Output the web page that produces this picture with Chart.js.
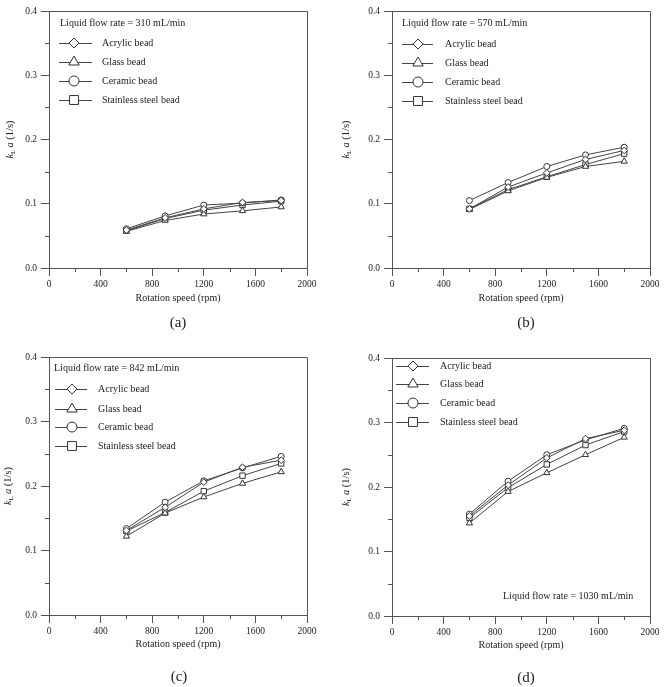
<!DOCTYPE html>
<html>
<head>
<meta charset="utf-8">
<script src="https://cdn.jsdelivr.net/npm/chart.js"></script>
<style>
  html, body { margin:0; padding:0; background:#fff; }
  #fig { position:relative; width:666px; height:687px; }
  #fig canvas { position:absolute; }
</style>
</head>
<body>
<div id="fig">
  <canvas id="pa" width="333" height="340" style="left:0;top:0"></canvas>
  <canvas id="pb" width="333" height="340" style="left:333px;top:0"></canvas>
  <canvas id="pc" width="333" height="347" style="left:0;top:340px"></canvas>
  <canvas id="pd" width="333" height="347" style="left:333px;top:340px"></canvas>
</div>
<script>
// ===== data (kLa, 1/s) =====
const rpm = [600, 900, 1200, 1500, 1800];
const beadNames = ["Acrylic bead", "Glass bead", "Ceramic bead", "Stainless steel bead"];

// 310 mL/min
const acrylic310 = [0.059, 0.078, 0.092, 0.102, 0.105];
const glass310   = [0.057, 0.074, 0.084, 0.089, 0.095];
const ceramic310 = [0.061, 0.081, 0.098, 0.101, 0.106];
const steel310   = [0.058, 0.077, 0.090, 0.098, 0.104];
// 570 mL/min
const acrylic570 = [0.092, 0.126, 0.148, 0.169, 0.183];
const glass570   = [0.091, 0.120, 0.141, 0.158, 0.166];
const ceramic570 = [0.105, 0.133, 0.158, 0.176, 0.188];
const steel570   = [0.092, 0.122, 0.142, 0.161, 0.178];
// 842 mL/min
const acrylic842 = [0.131, 0.167, 0.206, 0.229, 0.240];
const glass842   = [0.122, 0.158, 0.183, 0.204, 0.222];
const ceramic842 = [0.134, 0.175, 0.208, 0.228, 0.246];
const steel842   = [0.130, 0.159, 0.192, 0.216, 0.235];
// 1030 mL/min
const acrylic1030 = [0.155, 0.203, 0.245, 0.275, 0.288];
const glass1030   = [0.144, 0.193, 0.222, 0.250, 0.277];
const ceramic1030 = [0.158, 0.209, 0.250, 0.273, 0.291];
const steel1030   = [0.152, 0.199, 0.235, 0.265, 0.286];

const flowLabels = [
  "Liquid flow rate = 310 mL/min",
  "Liquid flow rate = 570 mL/min",
  "Liquid flow rate = 842 mL/min",
  "Liquid flow rate = 1030 mL/min"
];
const panelLetters = ["(a)", "(b)", "(c)", "(d)"];
const xTitle = "Rotation speed (rpm)";

// ===== styles =====
const FONT = "'Liberation Serif', 'Times New Roman', serif";
const INK = "#222";
const AXIS = "#555";
const LINE = "#444";
const markers = ["rectRot", "triangle", "circle", "rect"];
const dataRadius = [3.4, 3.6, 3, 3.8];
const legendRadius = [5, 6, 5, 6.3];

Chart.defaults.font.family = FONT;
Chart.defaults.color = INK;

function series(vals){ return rpm.map((r,i)=>({ x:r, y:vals[i] })); }

function tenth(v){ return Math.abs(v*10 - Math.round(v*10)) < 1e-6; }

function makePanel(id, sets, p){
  const deco = {
    id: "deco_"+id,
    afterDraw(chart){
      const ctx = chart.ctx, ca = chart.chartArea;
      const xs = chart.scales.x, ys = chart.scales.y;
      ctx.save();
      // frame top/right
      ctx.strokeStyle = AXIS; ctx.lineWidth = 1;
      ctx.beginPath();
      ctx.moveTo(ca.left, Math.round(ca.top)+0.5);
      ctx.lineTo(Math.round(ca.right)+0.5, Math.round(ca.top)+0.5);
      ctx.lineTo(Math.round(ca.right)+0.5, ca.bottom);
      ctx.stroke();
      // minor ticks
      ctx.beginPath();
      for(let v=0.05; v<0.4; v+=0.1){
        const y = Math.round(ys.getPixelForValue(v))+0.5;
        ctx.moveTo(ca.left-4, y); ctx.lineTo(ca.left, y);
      }
      for(let v=200; v<2000; v+=400){
        const x = Math.round(xs.getPixelForValue(v))+0.5;
        ctx.moveTo(x, ca.bottom); ctx.lineTo(x, ca.bottom+4);
      }
      ctx.stroke();

      ctx.fillStyle = INK;
      ctx.textBaseline = "middle";
      // flow rate label
      ctx.font = "10px "+FONT;
      ctx.textAlign = "left";
      ctx.fillText(p.flow, p.flowX, p.flowY);
      // legend
      beadNames.forEach((name,i)=>{
        const y = p.legY[i];
        ctx.strokeStyle = LINE; ctx.lineWidth = 1;
        ctx.beginPath();
        ctx.moveTo(p.legX0, y+0.5); ctx.lineTo(p.legX1, y+0.5);
        ctx.stroke();
        ctx.fillStyle = "#fff"; ctx.strokeStyle = "#333";
        Chart.helpers.drawPoint(ctx, { pointStyle: markers[i], radius: legendRadius[i], rotation: 0, borderWidth: 1 }, p.legM, y);
        ctx.fillStyle = INK;
        ctx.fillText(name, p.legT, y);
      });
      // x title
      ctx.textAlign = "center";
      ctx.font = "10px "+FONT;
      ctx.fillText(xTitle, (ca.left+ca.right)/2, p.xTitleY);
      // panel letter
      ctx.font = "15px "+FONT;
      ctx.fillText(p.letter, p.letterX, p.letterY);
      // y title: k_L a (1/s)
      ctx.translate(p.yTitleX, (ca.top+ca.bottom)/2);
      ctx.rotate(-Math.PI/2);
      const parts = [
        { t:"k", f:"italic 10.5px "+FONT, dy:0 },
        { t:"L", f:"7px "+FONT, dy:3 },
        { t:"\u2009a", f:"italic 10.5px "+FONT, dy:0 },
        { t:" (1/s)", f:"10.5px "+FONT, dy:0 }
      ];
      let total = 0;
      parts.forEach(s=>{ ctx.font = s.f; s.w = ctx.measureText(s.t).width; total += s.w; });
      let cx = -total/2;
      ctx.textAlign = "left";
      parts.forEach(s=>{ ctx.font = s.f; ctx.fillText(s.t, cx, s.dy); cx += s.w; });
      ctx.restore();
    }
  };

  return new Chart(document.getElementById(id), {
    type: "scatter",
    data: {
      datasets: sets.map((vals,i)=>({
        label: beadNames[i],
        data: series(vals),
        showLine: true,
        borderColor: LINE,
        borderWidth: 1,
        pointStyle: markers[i],
        pointRadius: dataRadius[i],
        pointBackgroundColor: "#fff",
        pointBorderColor: "#333",
        pointBorderWidth: 1
      }))
    },
    options: {
      responsive: false,
      animation: false,
      layout: { padding: { left:0, top:p.top, right:p.right, bottom:0 } },
      plugins: { legend:{ display:false }, tooltip:{ enabled:false } },
      scales: {
        x: {
          type: "linear", min: 0, max: 2000,
          afterFit(s){ s.height = p.xH; },
          grid: { drawOnChartArea:false, tickLength:8, color:AXIS },
          border: { color:AXIS },
          ticks: { stepSize:400, autoSkip:false, maxRotation:0, padding:3, color:INK, font:{ size:9.5 },
                   callback: v => String(v) }
        },
        y: {
          type: "linear", min: 0, max: 0.4,
          afterFit(s){ s.width = p.yW; },
          grid: { drawOnChartArea:false, tickLength:8, color:AXIS },
          border: { color:AXIS },
          ticks: { stepSize:0.1, autoSkip:false, padding:4, color:INK, font:{ size:9.5 },
                   callback: v => tenth(v) ? v.toFixed(1) : "" }
        }
      }
    },
    plugins: [deco]
  });
}

makePanel("pa", [acrylic310, glass310, ceramic310, steel310], {
  yW:49, xH:72, top:11, right:26,
  flow:flowLabels[0], flowX:60, flowY:23,
  legY:[43,62,81,100], legX0:59, legX1:92, legM:74, legT:102,
  xTitleY:298, letter:panelLetters[0], letterX:178, letterY:323, yTitleX:10
});
makePanel("pb", [acrylic570, glass570, ceramic570, steel570], {
  yW:59, xH:72, top:11, right:16,
  flow:flowLabels[1], flowX:69, flowY:23,
  legY:[44,63,82,101], legX0:69, legX1:100, legM:85, legT:112,
  xTitleY:298, letter:panelLetters[1], letterX:193, letterY:323, yTitleX:13
});
makePanel("pc", [acrylic842, glass842, ceramic842, steel842], {
  yW:49, xH:72, top:17, right:26,
  flow:flowLabels[2], flowX:54, flowY:28,
  legY:[49,69,87,106], legX0:55, legX1:87, legM:72, legT:98,
  xTitleY:304, letter:panelLetters[2], letterX:179, letterY:337, yTitleX:8
});
makePanel("pd", [acrylic1030, glass1030, ceramic1030, steel1030], {
  yW:59, xH:71, top:18, right:16,
  flow:flowLabels[3], flowX:170, flowY:256,
  legY:[26,44,63,82], legX0:63, legX1:96, legM:80, legT:107,
  xTitleY:305, letter:panelLetters[3], letterX:193, letterY:338, yTitleX:13
});
</script>
</body>
</html>
